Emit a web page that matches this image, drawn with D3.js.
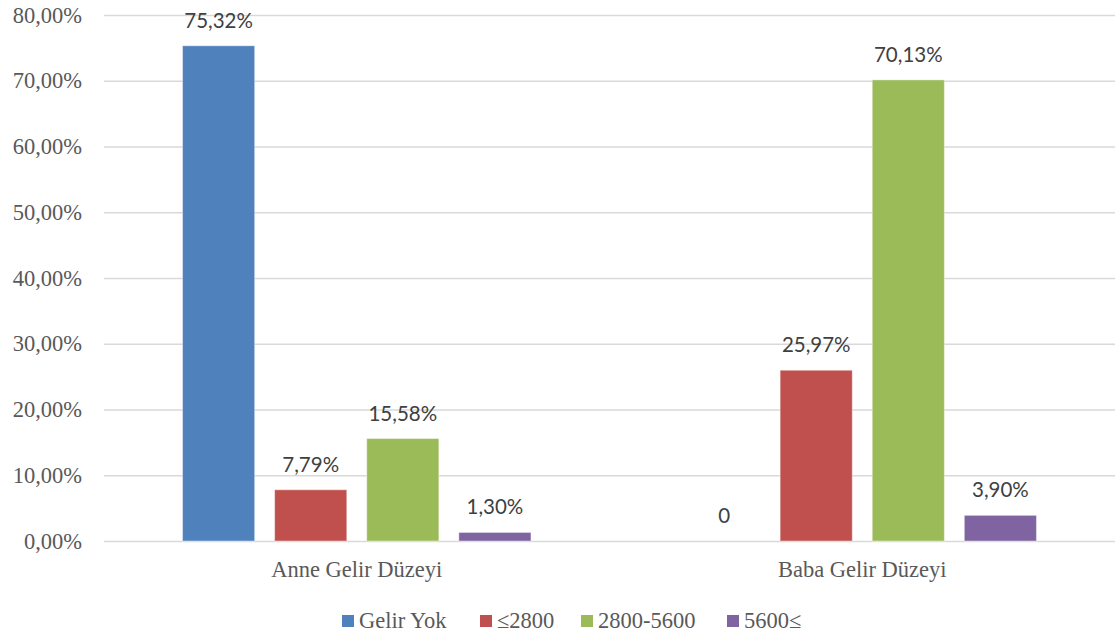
<!DOCTYPE html>
<html><head><meta charset="utf-8">
<script src="https://cdn.jsdelivr.net/npm/d3@7"></script>
<style>
body{margin:0;background:#fff}
.serif{font-family:"Liberation Serif","Times New Roman",Tinos,"DejaVu Serif","Noto Serif",serif;}
.sans{font-family:Lato,"Open Sans",sans-serif;}
</style>
</head><body>
<svg id="chart" width="1119" height="640"></svg>
<script>
const categories = ["Anne Gelir Düzeyi", "Baba Gelir Düzeyi"];
const seriesNames = ["Gelir Yok", "≤2800", "2800-5600", "5600≤"];
const seriesColors = ["#4f81bd", "#c0504d", "#9bbb59", "#8064a2"];
const anneValues = [75.32, 7.79, 15.58, 1.30];
const babaValues = [0, 25.97, 70.13, 3.90];
const valueLabelsAnne = ["75,32%", "7,79%", "15,58%", "1,30%"];
const valueLabelsBaba = ["0", "25,97%", "70,13%", "3,90%"];
const yTicks = [0, 10, 20, 30, 40, 50, 60, 70, 80];

const values = [anneValues, babaValues];
const labels = [valueLabelsAnne, valueLabelsBaba];

const svg = d3.select("#chart");
const plotLeft = 104, plotRight = 1115, plotTop = 15, plotBottom = 541;

const y = d3.scaleLinear().domain([0, 80]).range([plotBottom, plotTop]);
const x0 = d3.scaleBand().domain(categories).range([plotLeft, plotRight]).padding(0);
const x1 = d3.scaleBand().domain(seriesNames).range([0, x0.bandwidth()])
  .paddingInner(0.217).paddingOuter(0.853);

// gridlines
svg.append("g").selectAll("line").data(yTicks).join("line")
  .attr("x1", plotLeft).attr("x2", plotRight)
  .attr("y1", d => y(d) + 0.5).attr("y2", d => y(d) + 0.5)
  .attr("stroke", "#d9d9d9").attr("stroke-width", 1.3);

// y tick labels
svg.append("g").selectAll("text").data(yTicks).join("text")
  .attr("class", "serif")
  .attr("x", 82).attr("y", d => y(d) + 7.5)
  .attr("text-anchor", "end")
  .style("font-size", "22.5px").attr("fill", "#595959")
  .text(d => d.toFixed(2).replace(".", ",") + "%");

// bars
const groups = svg.append("g").selectAll("g").data(categories).join("g")
  .attr("transform", d => `translate(${x0(d)},0)`);

groups.each(function(cat, ci) {
  const g = d3.select(this);
  g.selectAll("rect").data(seriesNames).join("rect")
    .attr("x", s => x1(s)).attr("width", x1.bandwidth())
    .attr("y", (s, i) => y(values[ci][i]))
    .attr("height", (s, i) => plotBottom - y(values[ci][i]))
    .attr("fill", (s, i) => seriesColors[i])
    .attr("stroke", "#ffffff").attr("stroke-opacity", 0.4).attr("stroke-width", 1);
  g.selectAll("text").data(seriesNames).join("text")
    .attr("class", "sans")
    .attr("x", s => x1(s) + x1.bandwidth() / 2)
    .attr("y", (s, i) => y(values[ci][i]) - 18)
    .attr("text-anchor", "middle")
    .style("font-size", "20.5px").attr("fill", "#404040")
    .text((s, i) => labels[ci][i]);
});

// category labels
svg.append("g").selectAll("text").data(categories).join("text")
  .attr("class", "serif")
  .attr("x", d => x0(d) + x0.bandwidth() / 2).attr("y", 577)
  .attr("text-anchor", "middle")
  .style("font-size", "22.5px").attr("fill", "#595959")
  .text(d => d);

// legend
const legendX = [342, 480, 581, 727];
const leg = svg.append("g").selectAll("g").data(seriesNames).join("g")
  .attr("transform", (d, i) => `translate(${legendX[i]},615)`);
leg.append("rect").attr("width", 12).attr("height", 12)
  .attr("fill", (d, i) => seriesColors[i]);
leg.append("text").attr("class", "serif").attr("x", 17).attr("y", 13)
  .style("font-size", "22.5px").attr("fill", "#595959")
  .text(d => d);
</script>
</body></html>
